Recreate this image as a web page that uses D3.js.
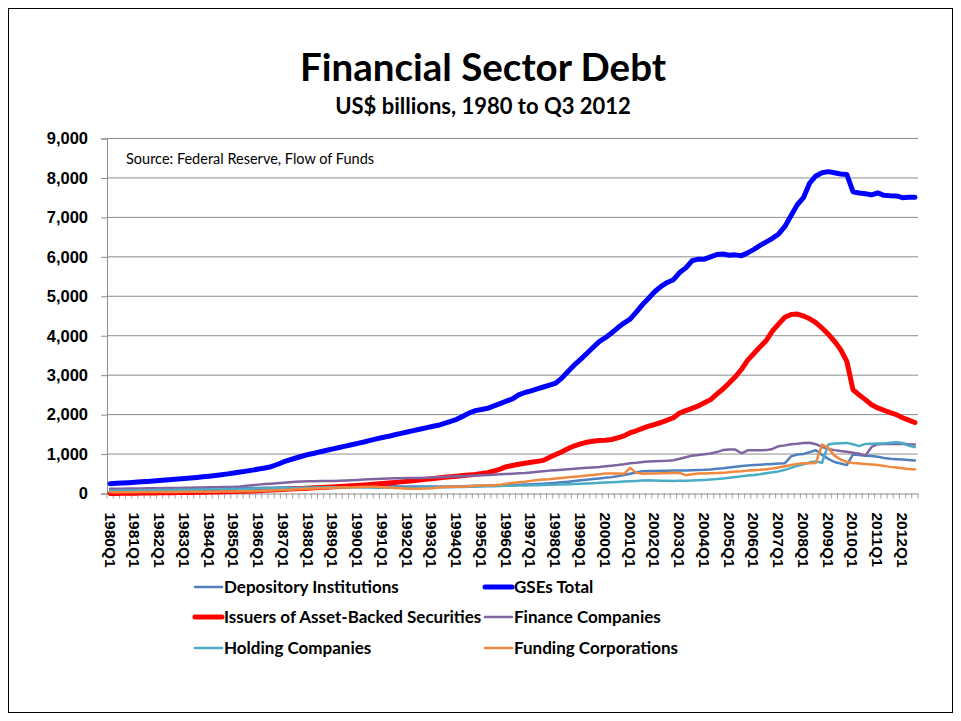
<!DOCTYPE html>
<html>
<head>
<meta charset="utf-8">
<script src="https://cdn.jsdelivr.net/npm/d3@7"></script>
<style>
  body { margin: 0; background: #fff; }
  svg { display: block; font-family: Lato, "Open Sans", "DejaVu Sans", sans-serif; }
</style>
</head>
<body>
<svg id="chart" width="961" height="721"></svg>
<script>
// Quarterly categories, 1980Q1 .. 2012Q3
const quarters = [];
for (let yr = 1980; yr <= 2012; yr++) {
  for (let q = 1; q <= 4; q++) {
    if (yr === 2012 && q === 4) break;
    quarters.push(yr + "Q" + q);
  }
}

const yTicks = [0, 1000, 2000, 3000, 4000, 5000, 6000, 7000, 8000, 9000];

// US$ billions, one row per year (Q1..Q4)
const depository = [
  95, 96, 97, 98,   100, 102, 104, 106,   108, 110, 112, 114,   116, 118, 120, 122,
  124, 126, 128, 130,   132, 134, 136, 138,   140, 143, 146, 149,   152, 155, 158, 161,
  164, 167, 170, 172,   174, 176, 178, 180,   182, 183, 184, 184,   184, 183, 182, 180,
  178, 176, 175, 175,   175, 176, 178, 180,   183, 186, 190, 194,   198, 202, 206, 210,
  214, 218, 222, 228,   234, 242, 250, 260,   270, 285, 300, 318,   335, 350, 365, 380,
  397, 415, 440, 470,   500, 530, 565, 570,   572, 575, 578, 580,   583, 586, 590, 595,
  600, 610, 625, 640,   660, 680, 700, 712,   720, 730, 740, 750,   760, 770, 940, 990,
  1000, 1050, 1097, 980,   880, 800, 760, 720,   990, 975, 960, 950,   930, 900, 880, 870,
  860, 850, 836
];

const gses = [
  250, 258, 266, 275,   285, 295, 305, 318,   330, 342, 355, 368,   380, 393, 408, 424,
  440, 458, 478, 498,   520, 543, 568, 593,   620, 648, 680, 735,   800, 850, 900, 945,
  990, 1020, 1060, 1095,   1130, 1165, 1200, 1235,   1270, 1305, 1345, 1385,   1420, 1450, 1490, 1525,
  1560, 1595, 1630, 1665,   1700, 1730, 1780, 1830,   1880, 1960, 2040, 2100,   2130, 2160, 2220, 2280,
  2340, 2400, 2500, 2560,   2600, 2650, 2700, 2750,   2800, 2930, 3100, 3260,   3400, 3550, 3700, 3850,
  3950, 4070, 4200, 4320,   4420, 4600, 4790, 4950,   5120, 5250, 5350, 5420,   5600, 5720, 5900, 5940,
  5940, 6000, 6060, 6070,   6040, 6050, 6030, 6100,   6190, 6290, 6380, 6470,   6580, 6770, 7050, 7320,
  7500, 7870, 8050, 8130,   8160, 8130, 8100, 8090,   7650, 7620, 7600, 7570,   7620, 7560, 7550, 7545,
  7500, 7510, 7510
];

const absIssuers = [
  0, 3, 5, 7,   9, 11, 13, 15,   17, 19, 21, 23,   25, 27, 30, 33,
  36, 39, 42, 46,   50, 55, 60, 66,   72, 80, 88, 96,   104, 112, 120, 128,
  136, 144, 152, 160,   168, 176, 185, 195,   205, 215, 228, 240,   253, 266, 280, 295,
  312, 326, 342, 358,   375, 395, 410, 425,   440, 455, 470, 485,   505, 530, 570, 620,
  680, 710, 740, 765,   790, 815, 840, 920,   990, 1060, 1140, 1210,   1260, 1300, 1325, 1345,
  1350, 1370, 1410, 1460,   1540, 1590, 1650, 1710,   1750, 1800, 1860, 1920,   2040, 2100, 2160, 2220,
  2300, 2380, 2520, 2650,   2800, 2960, 3150, 3380,   3550, 3720, 3880, 4120,   4300, 4470, 4540, 4550,
  4500, 4430, 4330, 4194,   4040, 3860, 3650, 3350,   2630, 2500, 2380, 2250,   2170, 2110, 2050, 2000,
  1920, 1860, 1800
];

const financeCos = [
  118, 120, 122, 124,   126, 128, 130, 133,   136, 138, 140, 142,   145, 148, 151, 154,
  157, 160, 163, 166,   170, 180, 195, 210,   225, 240, 250, 262,   275, 288, 300, 305,
  310, 312, 315, 318,   320, 325, 330, 338,   345, 352, 360, 368,   375, 380, 385, 388,
  390, 393, 396, 400,   405, 412, 420, 428,   435, 440, 448, 455,   462, 470, 478, 486,
  494, 502, 512, 520,   535, 550, 565, 580,   590, 600, 612, 625,   640, 650, 660, 672,
  690, 705, 720, 740,   765, 780, 800, 810,   818, 825, 832, 845,   880, 920, 960, 975,
  995, 1015, 1050, 1100,   1114, 1114, 1020, 1095,   1097, 1097, 1100, 1130,   1200, 1220, 1250, 1262,
  1280, 1285, 1250, 1180,   1130, 1100, 1075, 1060,   1035, 1010, 960, 1180,   1250, 1255, 1260, 1255,
  1260, 1250, 1245
];

const holdingCos = [
  70, 72, 74, 76,   78, 80, 82, 84,   86, 88, 90, 92,   94, 96, 98, 100,
  102, 105, 108, 111,   114, 117, 120, 123,   126, 129, 132, 135,   138, 141, 144, 147,
  150, 153, 156, 158,   160, 160, 158, 156,   155, 152, 150, 148,   146, 145, 145, 146,
  147, 148, 150, 152,   154, 156, 158, 160,   163, 166, 170, 174,   178, 182, 186, 190,
  194, 198, 202, 205,   208, 212, 216, 220,   225, 230, 236, 242,   248, 255, 262, 270,
  278, 286, 294, 302,   312, 320, 328, 335,   330, 325, 322, 320,   322, 326, 330, 336,
  345, 355, 365, 380,   400, 420, 440, 455,   470, 490, 515, 540,   560, 600, 650, 700,
  740, 790, 810, 780,   1240, 1265, 1275, 1283,   1250, 1200, 1258, 1260,   1265, 1270, 1285, 1300,
  1280, 1210, 1175
];

const fundingCorps = [
  30, 31, 32, 33,   34, 35, 36, 37,   38, 39, 40, 41,   42, 43, 44, 45,
  46, 47, 48, 50,   52, 54, 56, 60,   64, 70, 76, 82,   90, 98, 106, 114,
  120, 126, 132, 138,   144, 150, 156, 160,   164, 168, 170, 168,   160, 150, 140, 130,
  122, 118, 120, 125,   135, 150, 165, 170,   172, 178, 185, 195,   200, 205, 212, 220,
  250, 265, 285, 300,   320, 340, 354, 360,   380, 395, 410, 422,   435, 456, 470, 485,
  506, 510, 505, 498,   650, 523, 498, 505,   510, 515, 520, 522,   523, 464, 490, 505,
  510, 515, 518, 523,   540, 555, 565, 580,   590, 600, 615, 633,   660, 690, 720, 751,
  765, 770, 776, 1240,   1157, 960, 861, 800,   776, 760, 745, 734,   720, 700, 675, 660,
  640, 620, 608
];

const seriesNames = [
  "Depository Institutions", "GSEs Total", "Issuers of Asset-Backed Securities",
  "Finance Companies", "Holding Companies", "Funding Corporations"
];
const seriesValues = [depository, gses, absIssuers, financeCos, holdingCos, fundingCorps];
const seriesColors = ["#4F81BD", "#0000FF", "#FF0000", "#8064A2", "#4BACC6", "#F0883E"];
const seriesWidths = [2.5, 5, 5, 2.5, 2.5, 2.5];

const svg = d3.select("#chart");
const plot = { left: 107, right: 918, top: 138.5, bottom: 493.5 };

// outer frame
svg.append("rect")
  .attr("x", 8.5).attr("y", 8.5).attr("width", 944).attr("height", 704)
  .attr("fill", "#fff").attr("stroke", "#000").attr("stroke-width", 1);

// titles
svg.append("text").attr("x", 483).attr("y", 81).attr("text-anchor", "middle")
  .attr("font-size", 38.5).attr("font-weight", 700).attr("fill", "#000")
  .text("Financial Sector Debt");
svg.append("text").attr("x", 483).attr("y", 114).attr("text-anchor", "middle")
  .attr("font-size", 22).attr("font-weight", 700).attr("fill", "#000")
  .text("US$ billions, 1980 to Q3 2012");

const x = d3.scaleBand().domain(quarters).range([plot.left, plot.right]).padding(0);
const cx = q => x(q) + x.bandwidth() / 2;
const y = d3.scaleLinear().domain([0, 9000]).range([plot.bottom, plot.top]);

// horizontal gridlines
svg.append("g").selectAll("line").data(yTicks.filter(d => d > 0)).join("line")
  .attr("x1", plot.left).attr("x2", plot.right)
  .attr("y1", d => y(d)).attr("y2", d => y(d))
  .attr("stroke", "#8c8c8c").attr("stroke-width", 1);

// y axis
const yAxis = svg.append("g").attr("transform", `translate(${plot.left},0)`)
  .call(d3.axisLeft(y).tickValues(yTicks).tickSize(6).tickPadding(13).tickFormat(d3.format(",")));
yAxis.select(".domain").attr("stroke", "#8c8c8c");
yAxis.selectAll(".tick line").attr("stroke", "#8c8c8c");
yAxis.selectAll(".tick text").attr("font-size", 16.5).attr("font-weight", 700)
  .attr("fill", "#000").attr("font-family", null);

// x axis: minor tick at every quarter boundary
const boundaries = quarters.map(q => x(q)).concat([plot.right]);
svg.append("g").selectAll("line").data(boundaries).join("line")
  .attr("x1", d => d).attr("x2", d => d)
  .attr("y1", plot.bottom).attr("y2", plot.bottom + 5)
  .attr("stroke", "#a0a0a0").attr("stroke-width", 1);

const xAxis = svg.append("g").attr("transform", `translate(0,${plot.bottom})`)
  .call(d3.axisBottom(x).tickValues(quarters.filter(q => q.endsWith("Q1"))).tickSize(0));
xAxis.select(".domain").attr("stroke", "#8c8c8c");
xAxis.selectAll(".tick text")
  .attr("transform", "rotate(90)")
  .attr("x", 19).attr("y", 0).attr("dy", "0.36em")
  .attr("text-anchor", "start")
  .attr("font-size", 15.5).attr("font-weight", 700).attr("fill", "#000")
  .attr("font-family", null);

// source note
svg.append("text").attr("x", 126).attr("y", 164)
  .attr("font-size", 14.5).attr("fill", "#000")
  .text("Source: Federal Reserve, Flow of Funds");

// series lines
const line = d3.line()
  .x((d, i) => cx(quarters[i]))
  .y(d => y(d));

svg.append("g").selectAll("path").data(seriesValues).join("path")
  .attr("d", d => line(d))
  .attr("fill", "none")
  .attr("stroke", (d, i) => seriesColors[i])
  .attr("stroke-width", (d, i) => seriesWidths[i])
  .attr("stroke-linejoin", "round")
  .attr("stroke-linecap", "round");

// legend, two columns by three rows
const legendPos = [
  { x: 195, y: 587 }, { x: 485, y: 587 },
  { x: 195, y: 617 }, { x: 485, y: 617 },
  { x: 195, y: 648 }, { x: 485, y: 648 }
];
const legend = svg.append("g").selectAll("g").data(seriesNames).join("g")
  .attr("transform", (d, i) => `translate(${legendPos[i].x},${legendPos[i].y})`);
legend.append("line")
  .attr("x1", 0).attr("x2", 27).attr("y1", 0).attr("y2", 0)
  .attr("stroke", (d, i) => seriesColors[i])
  .attr("stroke-width", (d, i) => seriesWidths[i])
  .attr("stroke-linecap", "round");
legend.append("text")
  .attr("x", 29).attr("y", 0).attr("dy", "0.35em")
  .attr("font-size", 17).attr("font-weight", 700).attr("fill", "#000")
  .text(d => d);
</script>
</body>
</html>
